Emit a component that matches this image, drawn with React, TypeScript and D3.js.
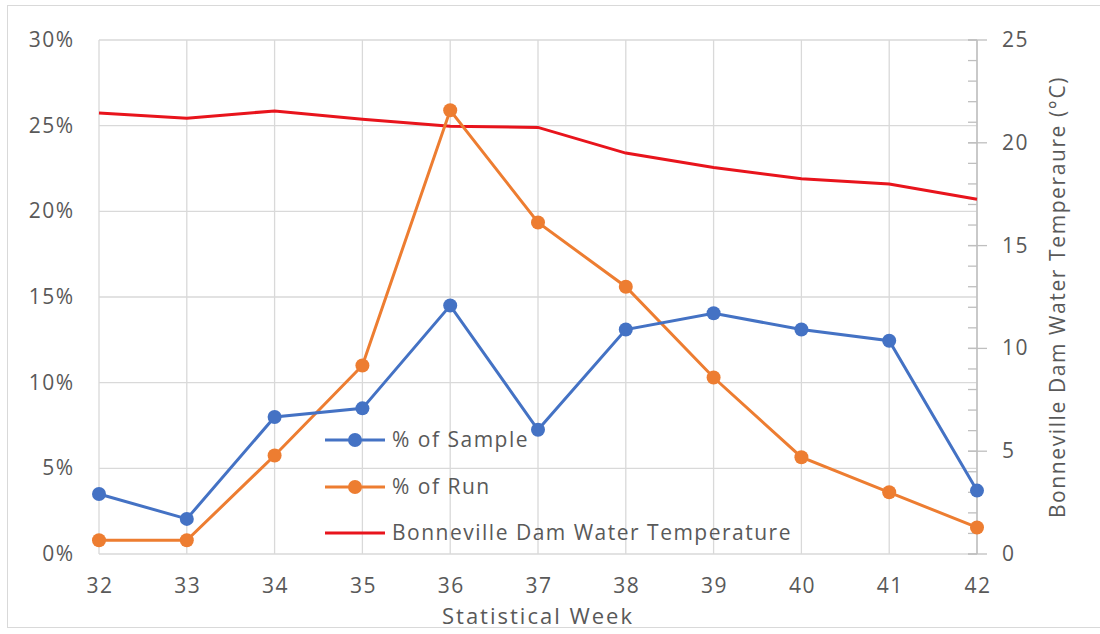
import React from "react";
import * as d3 from "d3";

const weeks = [32, 33, 34, 35, 36, 37, 38, 39, 40, 41, 42];
const pctSample = [3.5, 2.05, 8.0, 8.5, 14.5, 7.25, 13.1, 14.05, 13.1, 12.45, 3.7];
const pctRun = [0.8, 0.8, 5.75, 11.0, 25.9, 19.35, 15.6, 10.3, 5.65, 3.6, 1.55];
const waterTemp = [21.45, 21.2, 21.55, 21.15, 20.8, 20.75, 19.5, 18.8, 18.25, 18.0, 17.25];
const leftTicks = [0, 5, 10, 15, 20, 25, 30];
const rightTicks = [0, 5, 10, 15, 20, 25];
const rightMinorTicks = d3.range(0, 26, 1);
const seriesNames = ["% of Sample", "% of Run", "Bonneville Dam Water Temperature"];

const W = 1100, H = 634;
const M = { left: 99, right: 977, top: 40, bottom: 554 };
const FONT = "'Open Sans', sans-serif";
const TXT = "#595959";
const GRID = "#d9d9d9";
const BLUE = "#4472C4", ORANGE = "#ED7D31", RED = "#E8141C";

export default function App() {
  const x = d3.scaleLinear().domain([32, 42]).range([M.left, M.right]);
  const yL = d3.scaleLinear().domain([0, 30]).range([M.bottom, M.top]);
  const yR = d3.scaleLinear().domain([0, 25]).range([M.bottom, M.top]);
  const lineL = d3.line<number>().x((_, i) => x(weeks[i])).y((d) => yL(d));
  const lineR = d3.line<number>().x((_, i) => x(weeks[i])).y((d) => yR(d));

  const legendY = [440, 487, 533];
  const legendColors = [BLUE, ORANGE, RED];

  return (
    <svg width={W} height={H} style={{ position: "absolute", left: 0, top: 0, background: "#fff" }} fontFamily={FONT}>
      <rect x={7.5} y={5.5} width={W} height={622} fill="#fff" stroke="#d9d9d9" strokeWidth={1} />
      {/* gridlines */}
      {leftTicks.map((t) => (
        <line key={"h" + t} x1={M.left} x2={M.right} y1={yL(t)} y2={yL(t)} stroke={GRID} strokeWidth={1.3} />
      ))}
      {weeks.map((w) => (
        <line key={"v" + w} x1={x(w)} x2={x(w)} y1={M.top} y2={M.bottom} stroke={GRID} strokeWidth={1.3} />
      ))}
      {/* right axis */}
      <line x1={M.right} x2={M.right} y1={M.top} y2={M.bottom} stroke="#bfbfbf" strokeWidth={1.5} />
      {rightMinorTicks.map((t) => (
        <line key={"m" + t} x1={M.right - 9} x2={M.right} y1={yR(t)} y2={yR(t)} stroke="#bfbfbf" strokeWidth={1.3} />
      ))}
      {rightTicks.map((t) => (
        <line key={"M" + t} x1={M.right - 9} x2={M.right + 10} y1={yR(t)} y2={yR(t)} stroke="#bfbfbf" strokeWidth={1.3} />
      ))}
      {rightTicks.map((t) => (
        <text key={"rt" + t} x={1002} y={yR(t) + 7} fontSize={21} letterSpacing={1.5} fill={TXT}>{t}</text>
      ))}
      {/* left labels */}
      {leftTicks.map((t) => (
        <text key={"lt" + t} x={74.5} y={yL(t) + 7} fontSize={21} letterSpacing={1.5} fill={TXT} textAnchor="end">{t + "%"}</text>
      ))}
      {/* x labels */}
      {weeks.map((w) => (
        <text key={"xl" + w} x={x(w) + 1} y={593} fontSize={21} letterSpacing={1.5} fill={TXT} textAnchor="middle">{w}</text>
      ))}
      <text x={538} y={624} fontSize={22} letterSpacing={2} fill={TXT} textAnchor="middle">Statistical Week</text>
      <text transform={`translate(1065,${(M.top + M.bottom) / 2}) rotate(-90)`} fontSize={21} letterSpacing={1.6} fill={TXT} textAnchor="middle">
        Bonneville Dam Water Temperaure (°C)
      </text>
      {/* series */}
      <path d={lineR(waterTemp) || ""} fill="none" stroke={RED} strokeWidth={3} />
      <path d={lineL(pctRun) || ""} fill="none" stroke={ORANGE} strokeWidth={3} />
      {pctRun.map((v, i) => (
        <circle key={"r" + i} cx={x(weeks[i])} cy={yL(v)} r={7} fill={ORANGE} />
      ))}
      <path d={lineL(pctSample) || ""} fill="none" stroke={BLUE} strokeWidth={3} />
      {pctSample.map((v, i) => (
        <circle key={"s" + i} cx={x(weeks[i])} cy={yL(v)} r={7} fill={BLUE} />
      ))}
      {/* legend */}
      {seriesNames.map((n, i) => (
        <g key={"lg" + i}>
          <line x1={325} x2={385} y1={legendY[i]} y2={legendY[i]} stroke={legendColors[i]} strokeWidth={3} />
          {i < 2 && <circle cx={355} cy={legendY[i]} r={7} fill={legendColors[i]} />}
          <text x={392} y={legendY[i] + 7} fontSize={21} letterSpacing={1.5} fill={TXT}>{n}</text>
        </g>
      ))}
    </svg>
  );
}
